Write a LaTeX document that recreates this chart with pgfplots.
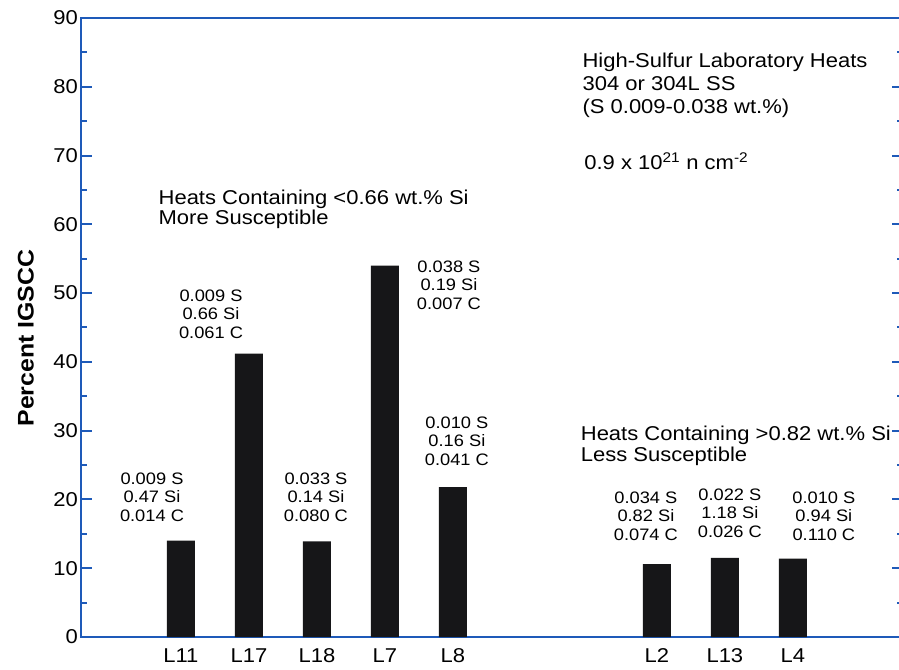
\documentclass[border=0pt]{standalone}
\usepackage{fontspec}
\setmainfont[FakeStretch=1.1]{Liberation Sans}
\usepackage{pgfplots}
\pgfplotsset{compat=1.18}

\definecolor{axisblue}{RGB}{30,90,185}
\definecolor{barblack}{RGB}{22,22,24}

\begin{document}
\begin{tikzpicture}
    \begin{axis}[
        scale only axis,
        width             = 822pt,
        height            = 619pt,
        xmin              = -0.47,
        xmax              = 11.62,
        ymin              = 0,
        ymax              = 90,
        ybar,
        bar width         = 28pt,
        xtick             = {1,2,3,4,5,8,9,10},
        xticklabels       = {L11,L17,L18,L7,L8,L2,L13,L4},
        ytick             = {0,10,...,90},
        minor y tick num  = 1,
        tick align        = inside,
        xtick style       = {draw=none},
        ytick style       = {axisblue, line width=2pt},
        major tick length = 11pt,
        minor tick length = 6pt,
        axis line style   = {axisblue, line width=2pt},
        tick label style  = {font=\fontsize{20}{22}\selectfont, inner sep=0pt},
        xticklabel style  = {text height=14.5pt, yshift=-11pt},
        yticklabel style  = {xshift=-3pt},
        /pgf/number format/assume math mode=true,
        ylabel            = {Percent IGSCC},
        ylabel style      = {font=\fontsize{22.6}{24}\selectfont\bfseries,
                             at={(axis description cs:-0.067,0.483)}, anchor=center},
        clip              = false]

        \addplot[fill=barblack, draw=none] coordinates {
            (1, 14.0)
            (2, 41.2)
            (3, 13.9)
            (4, 54.0)
            (5, 21.8)
            (8, 10.6)
            (9, 11.5)
            (10, 11.4)
        };

        % composition of each heat
        \begin{scope}[every node/.style={font=\fontsize{16.6}{18.4}\selectfont, align=center}]
            \node at (axis cs:0.574,20.35) {0.009 S\\0.47 Si\\0.014 C};
            \node at (axis cs:1.442,46.96) {0.009 S\\0.66 Si\\0.061 C};
            \node at (axis cs:2.986,20.35) {0.033 S\\0.14 Si\\0.080 C};
            \node at (axis cs:4.942,51.18) {0.038 S\\0.19 Si\\0.007 C};
            \node at (axis cs:5.059,28.50) {0.010 S\\0.16 Si\\0.041 C};
            \node at (axis cs:7.839,17.59) {0.034 S\\0.82 Si\\0.074 C};
            \node at (axis cs:9.074,18.03) {0.022 S\\1.18 Si\\0.026 C};
            \node at (axis cs:10.456,17.59) {0.010 S\\0.94 Si\\0.110 C};
        \end{scope}

        \node[font=\fontsize{20}{20}\selectfont, align=left, anchor=west]
            at (axis cs:0.62,62.23) {Heats Containing <0.66 wt.\% Si\\More Susceptible};
        \node[font=\fontsize{20}{21.5}\selectfont, align=left, anchor=west]
            at (axis cs:6.83,27.77) {Heats Containing >0.82 wt.\% Si\\Less Susceptible};
        \node[font=\fontsize{20}{23}\selectfont, align=left, anchor=west]
            at (axis cs:6.855,80.26) {High-Sulfur Laboratory Heats\\304 or 304L SS\\(S 0.009-0.038 wt.\%)};
        \node[font=\fontsize{20}{22}\selectfont, anchor=base west, inner sep=0pt]
            at (axis cs:6.93,67.9) {0.9 x 10\textsuperscript{21} n cm\textsuperscript{-2}};
    \end{axis}
    \pgfresetboundingbox
    \useasboundingbox (-81pt,-32pt) rectangle (818pt,637pt);
\end{tikzpicture}
\end{document}
